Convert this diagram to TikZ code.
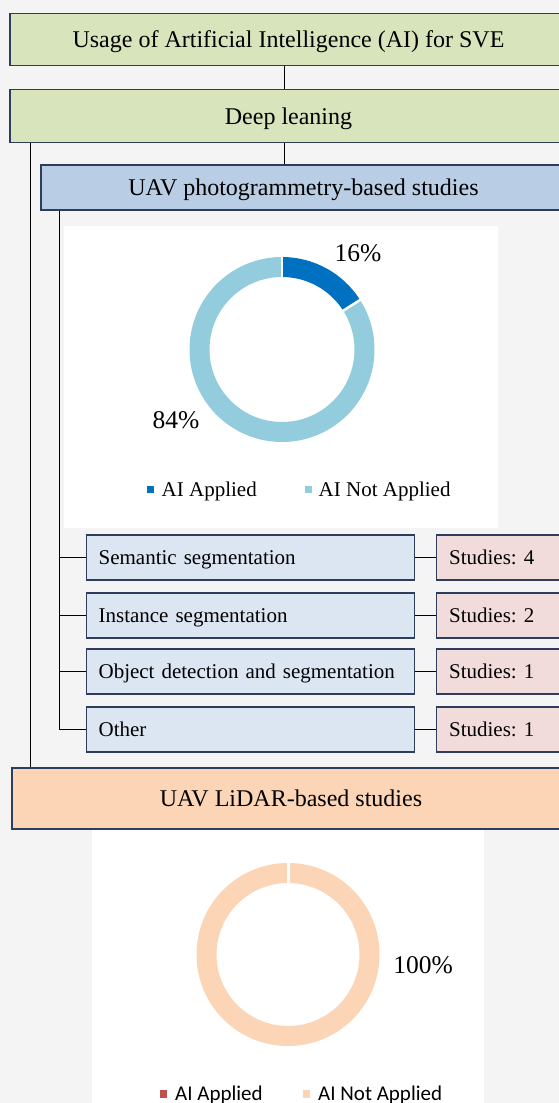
\documentclass[tikz,border=0pt]{standalone}
\usepackage{fontspec}
\setmainfont{Liberation Serif}
\newfontfamily\calib{Carlito}
\usetikzlibrary{calc}
\definecolor{bgc}{HTML}{F4F4F4}
\definecolor{bordc}{HTML}{2E3D5C}
\definecolor{greenc}{HTML}{D8E4BC}
\definecolor{bluehead}{HTML}{B9CDE5}
\definecolor{methc}{HTML}{DCE6F2}
\definecolor{studc}{HTML}{F2DCDB}
\definecolor{lidarc}{HTML}{FBD5B5}
\definecolor{darkblue}{HTML}{0070C0}
\definecolor{lightblue}{HTML}{93CDDD}
\definecolor{redc}{HTML}{C0504D}
\frenchspacing
\begin{document}
\begin{tikzpicture}[x=1pt,y=1pt,
  hbox/.style={draw=bordc, line width=1.2pt, inner sep=0pt, text depth=0pt, font=\fontsize{24}{28}\selectfont},
  mbox/.style={draw=bordc, fill=methc, line width=1.2pt, minimum height=45, text width=303, align=left, inner xsep=12.5, inner ysep=0, text depth=0pt, font=\fontsize{21}{24}\selectfont},
  sbox/.style={draw=bordc, fill=studc, line width=1.2pt, minimum height=45, text width=125, align=left, inner xsep=12.5, inner ysep=0, text depth=0pt, font=\fontsize{21}{24}\selectfont},
  conn/.style={draw=black, line width=1pt},
  pct/.style={font=\fontsize{25.5}{28}\selectfont, inner sep=0pt},
  leg/.style={font=\fontsize{21}{24}\selectfont, inner sep=0pt, anchor=base west}
]
\useasboundingbox (0,0) rectangle (559,-1103);
\clip (0,0) rectangle (559,-1103);
\fill[bgc] (0,0) rectangle (559,-1103);

% header boxes
\node[hbox, fill=greenc, minimum width=557, minimum height=52] (top) at (288.5,-39.5) {Usage of Artificial Intelligence (AI) for SVE};
\node[hbox, fill=greenc, minimum width=557, minimum height=53] (dl) at (288.5,-116) {Deep leaning};
\node[hbox, fill=bluehead, minimum width=525, minimum height=45] (photo) at (303.5,-187.5) {UAV photogrammetry-based studies};
\node[hbox, fill=lidarc, minimum width=558, minimum height=61] (lidar) at (291,-798.5) {UAV LiDAR-based studies};

% chart 1 panel
\fill[white] (64,-226) rectangle (498,-528);
\begin{scope}[shift={(282,-349.5)}]
  \fill[lightblue] (32.4:92.5) arc[start angle=32.4, end angle=-270, radius=92.5] -- (90:72.5) arc[start angle=90, end angle=392.4, radius=72.5] -- cycle;
  \fill[darkblue] (90:92.5) arc[start angle=90, end angle=32.4, radius=92.5] -- (32.4:72.5) arc[start angle=32.4, end angle=90, radius=72.5] -- cycle;
  \draw[white, line width=2.5pt] (90:70) -- (90:95);
  \draw[white, line width=2.5pt] (32.4:70) -- (32.4:95);
\end{scope}
\node[pct] (p16) at (358,-253) {16\%};
\node[pct] (p84) at (176,-420) {84\%};
\fill[darkblue] (147,-486) rectangle (154,-493);
\node[leg] (l1) at (161.5,-496) {AI Applied};
\fill[lightblue] (305,-486) rectangle (312,-493);
\node[leg] (l2) at (318.5,-496) {AI Not Applied};

% method boxes
\node[mbox, anchor=west] (m1) at (85.5,-557.5) {Semantic segmentation};
\node[mbox, anchor=west] (m2) at (85.5,-615.5) {Instance segmentation};
\node[mbox, anchor=west] (m3) at (85.5,-671.5) {Object detection and segmentation};
\node[mbox, anchor=west] (m4) at (85.5,-729.5) {Other};
\node[sbox, anchor=west] (s1) at (436,-557.5) {Studies: 4};
\node[sbox, anchor=west] (s2) at (436,-615.5) {Studies: 2};
\node[sbox, anchor=west] (s3) at (436,-671.5) {Studies: 1};
\node[sbox, anchor=west] (s4) at (436,-729.5) {Studies: 1};

% connectors
\draw[conn] ([xshift=-4.5pt]top.south) -- ([xshift=-4.5pt]dl.north);
\draw[conn] ([xshift=-4.5pt]dl.south) -- ([xshift=-4.5pt]dl.south |- photo.north);
\coordinate (outer) at ([xshift=21pt]dl.south west);
\draw[conn] (outer) -- (outer |- lidar.north);
\coordinate (inner) at ([xshift=19pt]photo.south west);
\draw[conn] (inner) |- (m4.west);
\foreach \i in {1,2,3} { \draw[conn] (m\i.west) -- (m\i.west -| inner); }
\foreach \i in {1,2,3,4} { \draw[conn] (m\i.east) -- (s\i.west); }

% chart 2 panel
\fill[white] (92,-830) rectangle (484,-1110);
\begin{scope}[shift={(288,-954.5)}]
  \fill[lidarc, even odd rule] (0,0) circle[radius=91.5] (0,0) circle[radius=71.5];
  \draw[white, line width=3pt] (90:69) -- (90:94);
\end{scope}
\node[pct] (p100) at (423,-965) {100\%};
\fill[redc] (160,-1090) rectangle (167,-1098);
\node[leg, font=\calib\fontsize{21}{24}\selectfont] (l3) at (175,-1100.5) {AI Applied};
\fill[lidarc] (303,-1090) rectangle (310,-1098);
\node[leg, font=\calib\fontsize{21}{24}\selectfont] (l4) at (318,-1100.5) {AI Not Applied};
\end{tikzpicture}
\end{document}
